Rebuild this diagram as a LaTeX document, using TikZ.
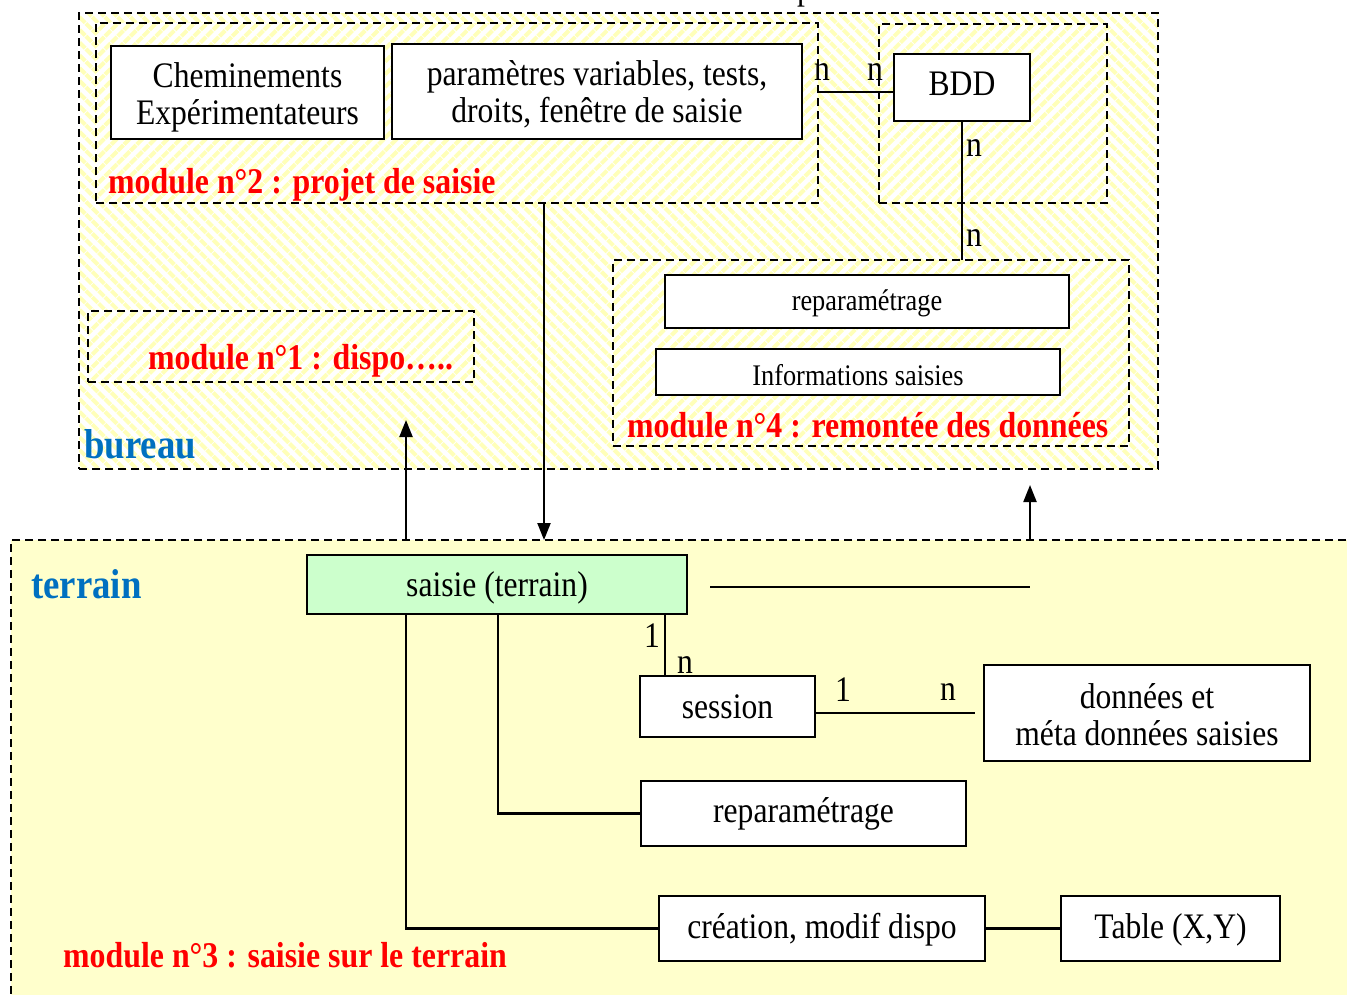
\documentclass[tikz,border=0pt]{standalone}
\usepackage{fontspec}
\setmainfont{Liberation Serif}[FakeStretch=0.88]
\usetikzlibrary{patterns.meta,arrows.meta}
\definecolor{hatch}{RGB}{255,255,185}
\definecolor{terrainbg}{RGB}{255,255,204}
\definecolor{greenbg}{RGB}{204,255,204}
\definecolor{modred}{RGB}{255,0,0}
\definecolor{zoneblue}{RGB}{0,112,192}
\begin{document}
\begin{tikzpicture}[x=1pt,y=-1pt,
  zonebox/.style={draw,line width=2.2pt,dash pattern=on 8pt off 5pt,inner sep=0pt,outer sep=0pt,anchor=north west},
  hatchNW/.style={pattern={Lines[angle=-45,distance=9pt,line width=4pt]},pattern color=hatch},
  hatchNE/.style={preaction={fill=white},pattern={Lines[angle=45,distance=9pt,line width=4pt]},pattern color=hatch},
  entity/.style={draw,line width=2.2pt,fill=white,inner sep=0pt,outer sep=0pt},
  etext/.style={font=\fontsize{35.9}{37}\selectfont,align=center,inner sep=0pt},
  smalltext/.style={etext,font=\fontsize{29.9}{33}\selectfont},
  modlabel/.style={text=modred,font=\fontsize{36.2}{40}\selectfont\bfseries,inner sep=0pt,anchor=west},
  zonelabel/.style={text=zoneblue,font=\fontsize{41.8}{46}\selectfont\bfseries,inner sep=0pt,anchor=west},
  card/.style={font=\fontsize{35.9}{37}\selectfont,inner sep=0pt},
  link/.style={line width=2.2pt},
  flow/.style={line width=2.2pt,-{Triangle[length=17pt,width=13pt]}}
]
\useasboundingbox (0,0) rectangle (1347,994);

% cut-off title
\node[card,anchor=base] (title) at (805,-1) {p};

% bureau zone
\node[zonebox,hatchNW,minimum width=1079pt,minimum height=456pt] (bureau) at (79,13) {};
\node[zonebox,hatchNE,minimum width=722pt,minimum height=180pt] (m2) at (96,23) {};
\node[zonebox,hatchNE,minimum width=228pt,minimum height=179pt] (bddz) at (879,24) {};
\node[zonebox,hatchNE,minimum width=386pt,minimum height=71pt] (m1) at (88,311) {};
\node[zonebox,hatchNE,minimum width=516pt,minimum height=186pt] (m4) at (613,260) {};

% terrain zone
\node[zonebox,fill=terrainbg,minimum width=1349pt,minimum height=470pt] (terrain) at (11,540) {};

% entities in bureau
\node[entity,minimum width=273pt,minimum height=93pt,
  label={[etext,yshift=-5pt]center:{Cheminements\\Expérimentateurs}}] (chem) at (247.5,92.5) {};
\node[entity,minimum width=410pt,minimum height=95pt,
  label={[etext,yshift=-3pt]center:{paramètres variables, tests,\\droits, fenêtre de saisie}}] (param) at (597,91.5) {};
\node[entity,minimum width=136pt,minimum height=67pt,
  label={[etext,yshift=4pt]center:{BDD}}] (bdd) at (962,87.5) {};
\node[entity,minimum width=404pt,minimum height=53pt,
  label={[smalltext,yshift=-2pt]center:{reparamétrage}}] (rep4) at (867,301.5) {};
\node[entity,minimum width=404pt,minimum height=46pt,
  label={[smalltext,yshift=-3pt]center:{Informations saisies}}] (info) at (858,372) {};

% labels in bureau
\node[modlabel] (l2) at (108,185) {module n°2 : projet de saisie};
\node[modlabel] (l1) at (148,361) {module n°1 : dispo…..};
\node[modlabel] (l4) at (627,425) {module n°4 : remontée des données};
\node[zonelabel] (lb) at (84,444) {bureau};

% bureau links
\coordinate (m2e) at (818,92);
\coordinate (bddw) at (894,92);
\draw[link] (m2e) -- (bddw);
\node[card] (n1) at (822,72) {n};
\node[card] (n2) at (875,72) {n};
\draw[link] (bdd.south) -- (bdd.south |- m4.north);
\node[card] (n3) at (974,148) {n};
\node[card] (n4) at (974,238) {n};

% entities in terrain
\node[entity,fill=greenbg,minimum width=380pt,minimum height=59pt,
  label={[etext,yshift=-3pt]center:{saisie (terrain)}}] (saisie) at (497,584.5) {};
\node[entity,minimum width=175pt,minimum height=61pt,
  label={[etext]center:{session}}] (session) at (727.5,706.5) {};
\node[entity,minimum width=326pt,minimum height=96pt,
  label={[etext,yshift=-2pt]center:{données et\\méta données saisies}}] (donnees) at (1147,713) {};
\node[entity,minimum width=325pt,minimum height=65pt,
  label={[etext]center:{reparamétrage}}] (rep3) at (803.5,813.5) {};
\node[entity,minimum width=326pt,minimum height=65pt,
  label={[etext,yshift=-1pt]center:{création, modif dispo}}] (creation) at (822,928.5) {};
\node[entity,minimum width=219pt,minimum height=65pt,
  label={[etext,yshift=-1pt]center:{Table (X,Y)}}] (table) at (1170.5,928.5) {};

\node[zonelabel] (lt) at (31,584) {terrain};
\node[modlabel] (l3) at (63,955) {module n°3 : saisie sur le terrain};

% terrain links
\coordinate (freeA) at (710,587);
\coordinate (freeB) at (1030,587);
\draw[link] (freeA) -- (freeB);
\coordinate (sesTop) at (665,676);
\draw[link] (sesTop |- saisie.south) -- (sesTop);
\node[card] (c1) at (652,636) {1};
\node[card] (c2) at (685,665) {n};
\coordinate (sesR) at (815,713);
\coordinate (donL) at (975,713);
\draw[link] (sesR) -- (donL);
\node[card] (c3) at (843,690) {1};
\node[card] (c4) at (948,692) {n};
\coordinate (kRep) at (498,0);
\draw[link] (kRep |- saisie.south) |- (rep3.west);
\coordinate (kCre) at (406,0);
\draw[link] (kCre |- saisie.south) |- (creation.west);
\draw[link] (creation.east) -- (table.west);

% flows between zones
\coordinate (up1a) at (406,540);
\coordinate (up1b) at (406,420);
\draw[flow] (up1a) -- (up1b);
\coordinate (dn1) at (544,540);
\draw[flow] (dn1 |- m2.south) -- (dn1);
\coordinate (up2a) at (1030,540);
\coordinate (up2b) at (1030,485);
\draw[flow] (up2a) -- (up2b);
\end{tikzpicture}
\end{document}
